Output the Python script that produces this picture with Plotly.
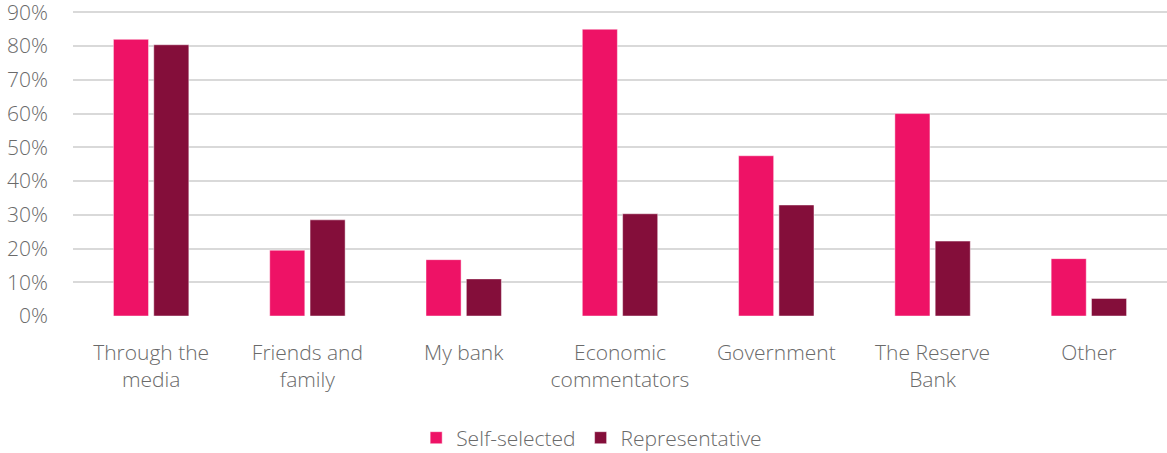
import plotly.graph_objects as go

categories = [
    "Through the<br>media",
    "Friends and<br>family",
    "My bank",
    "Economic<br>commentators",
    "Government",
    "The Reserve<br>Bank",
    "Other",
]
self_selected = [82, 19.5, 16.7, 85, 47.5, 60, 17]
representative = [80.4, 28.5, 11, 30.3, 32.9, 22.2, 5.2]
y_ticks = [0, 10, 20, 30, 40, 50, 60, 70, 80, 90]
y_tick_labels = [f"{v}%" for v in y_ticks]

PINK = "#EE1266"
MAROON = "#840E3A"
TEXT = "#6A6A6A"
FONT = "Open Sans"

fig = go.Figure()
fig.add_trace(go.Bar(
    x=categories, y=self_selected, name="Self-selected",
    marker=dict(color=PINK, line=dict(color="rgba(255,255,255,0.45)", width=1)),
))
fig.add_trace(go.Bar(
    x=categories, y=representative, name="Representative",
    marker=dict(color=MAROON, line=dict(color="rgba(255,255,255,0.45)", width=1)),
))

fig.update_layout(
    width=1167, height=453,
    margin=dict(l=73, r=0, t=8.6, b=136.5),
    paper_bgcolor="white", plot_bgcolor="white",
    barmode="group", bargap=0.484, bargroupgap=0.13,
    font=dict(family=FONT, size=21, color=TEXT, weight=300),
    showlegend=True,
    legend=dict(
        orientation="h", xref="container", x=0.507, xanchor="center",
        yref="container", y=0.033, yanchor="middle",
        itemwidth=30,
        font=dict(family=FONT, size=21, color=TEXT, weight=300),
        itemclick=False, traceorder="normal",
    ),
    hovermode=False,
)
fig.update_xaxes(
    showgrid=False, zeroline=False, showline=False, automargin=False,
    tickfont=dict(family=FONT, size=21, color=TEXT, weight=300),
    ticklabelstandoff=22,
)
fig.update_yaxes(
    range=[0, 91], tickvals=y_ticks, ticktext=y_tick_labels,
    showgrid=True, gridcolor="#D9D9D9", gridwidth=1.6,
    zeroline=False, showline=False, automargin=False,
    tickfont=dict(family=FONT, size=21, color=TEXT, weight=300),
    ticklabelstandoff=24, ticklabeloverflow="allow",
)

fig.write_html("out.html")
